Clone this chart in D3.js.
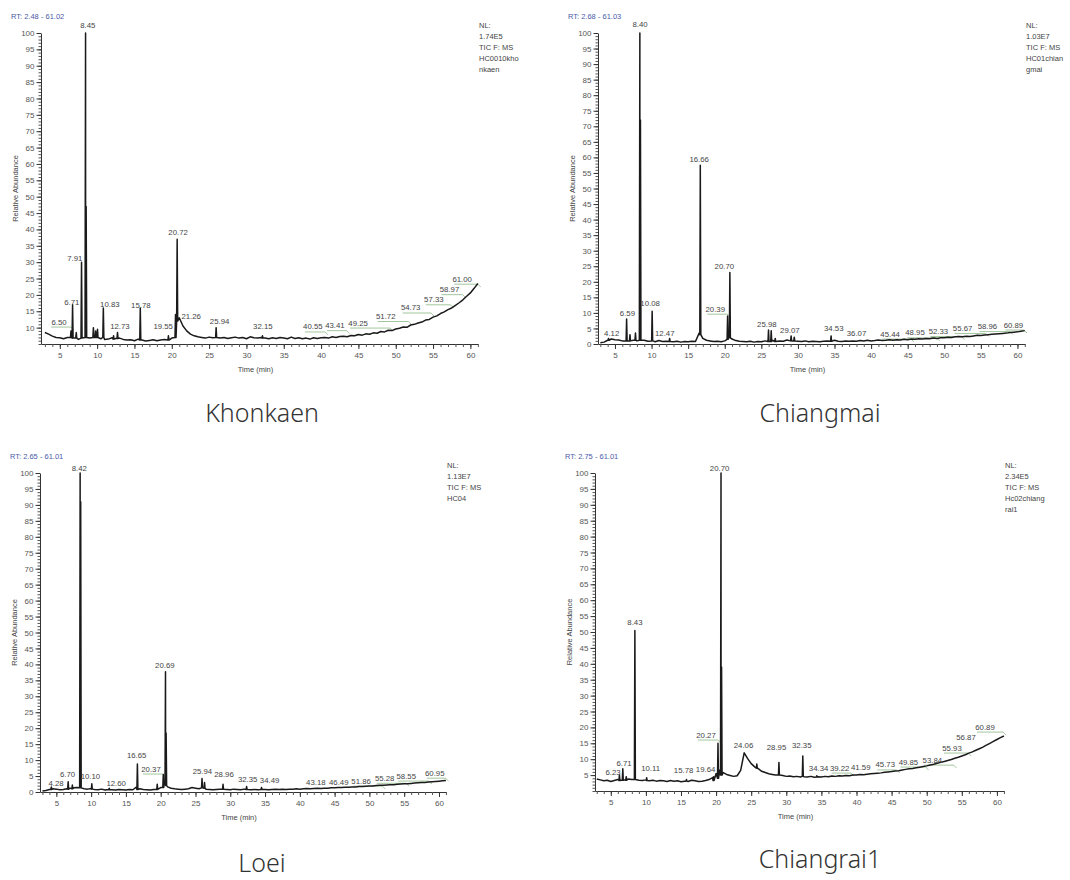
<!DOCTYPE html>
<html>
<head>
<meta charset="utf-8">
<script src="https://cdn.jsdelivr.net/npm/d3@7"></script>
<style>
  body { margin: 0; background: #fff; }
  svg text { font-family: "Liberation Sans", Arial, sans-serif; }
</style>
</head>
<body>
<svg id="chart" width="1070" height="880"></svg>
<script>
const baseTimes = d3.range(3, 61.001, 0.5);

// ---- Khonkaen ----
const khonkaenBase = [
  8.5, 8.0, 7.4, 7.0, 6.9, 6.6, 7.0, 6.5, 6.8, 6.4,
  6.6, 7.2, 6.8, 7.5, 8.0, 6.6, 6.4, 6.5, 6.9, 6.7,
  6.8, 6.4, 6.2, 6.3, 6.0, 6.5, 6.2, 5.9, 6.1, 6.3,
  6.0, 6.2, 6.4, 6.8, 6.8, 7.0, 13.0, 10.5, 9.0, 8.0,
  7.5, 7.2, 7.0, 6.8, 7.1, 6.9, 7.2, 6.8, 7.0, 6.7,
  6.9, 7.1, 6.8, 7.0, 6.6, 7.2, 6.9, 6.8, 7.0, 6.8,
  6.6, 6.9, 6.7, 7.0, 6.8, 6.6, 7.1, 6.7, 6.9, 6.6,
  6.8, 6.5, 6.9, 6.7, 6.9, 7.0, 6.8, 7.2, 7.0, 7.3,
  7.4, 7.2, 7.6, 7.5, 7.9, 7.7, 8.1, 8.0, 8.4, 8.3,
  8.8, 8.7, 9.2, 9.1, 9.6, 9.8, 10.2, 10.1, 10.8, 11.0,
  11.4, 11.7, 12.3, 12.5, 13.2, 13.6, 14.3, 14.8, 15.5, 16.0,
  16.8, 17.6, 18.5, 19.6, 20.6, 22.0, 23.5
];
// [retention time, apex, foot]
const khonkaenPeaks = [
  [6.50, 9, 7], [6.71, 17, 6.8], [7.2, 8.5, 6.8], [7.91, 30, 6.8],
  [8.45, 100, 7], [8.53, 47, 7], [9.5, 10, 7], [9.8, 9, 7], [10.05, 9.5, 7],
  [10.83, 16, 7], [12.2, 7.5, 6.5], [12.73, 8.5, 6.7], [15.78, 16, 6.2],
  [19.55, 7.5, 6.2], [20.5, 14, 7], [20.72, 37, 12], [25.94, 10, 7], [32.15, 7.5, 6.8]
];
// [label, label time, label height]
const khonkaenLabels = [
  ["6.50", 4.9, 11.7], ["6.71", 6.6, 17.6], ["7.91", 7.0, 31.2], ["8.45", 8.74, 102.4],
  ["10.83", 11.7, 17.0], ["12.73", 13.05, 10.2], ["15.78", 15.85, 16.9], ["19.55", 18.85, 10.2],
  ["20.72", 20.85, 39.1], ["21.26", 22.6, 13.4], ["25.94", 26.4, 11.9], ["32.15", 32.2, 10.4],
  ["40.55", 38.9, 10.2], ["43.41", 41.85, 10.6], ["49.25", 44.96, 11.4], ["51.72", 48.66, 13.4],
  ["54.73", 52.0, 16.0], ["57.33", 55.1, 18.5], ["58.97", 57.2, 21.6], ["61.00", 58.9, 24.8]
];
const khonkaenInfo = ["NL:", "1.74E5", "TIC F:  MS", "HC0010kho", "nkaen"];

// ---- Chiangmai ----
const chiangmaiBase = [
  0.4, 0.6, 1.2, 1.6, 1.4, 1.3, 1.0, 0.9, 0.8, 1.2,
  1.0, 1.8, 1.2, 0.9, 1.0, 0.7, 1.1, 0.8, 0.9, 1.0,
  0.7, 0.9, 0.6, 0.8, 0.7, 0.9, 0.8, 3.5, 1.8, 1.2,
  1.0, 0.8, 0.9, 0.7, 1.0, 2.5, 1.6, 1.1, 0.9, 0.8,
  0.7, 0.9, 0.6, 0.8, 0.7, 1.0, 0.9, 1.2, 0.8, 1.0,
  0.9, 1.3, 1.6, 1.1, 0.9, 0.8, 1.0, 0.7, 0.9, 0.8,
  0.7, 0.9, 1.0, 0.8, 1.2, 0.9, 0.8, 1.0, 0.9, 1.0,
  0.9, 1.1, 1.0, 1.2, 1.0, 1.1, 1.3, 1.1, 1.2, 1.4,
  1.2, 1.4, 1.3, 1.5, 1.4, 1.6, 1.5, 1.7, 1.6, 1.8,
  1.7, 1.9, 1.8, 2.0, 2.0, 2.2, 2.1, 2.3, 2.4, 2.3,
  2.5, 2.4, 2.6, 2.8, 2.7, 2.9, 3.0, 3.1, 3.2, 3.3,
  3.4, 3.5, 3.7, 3.8, 3.9, 4.1, 4.3
];
const chiangmaiPeaks = [
  [4.12, 1.8, 1.2], [6.59, 8, 1.0], [7.05, 3, 1.0], [7.8, 3.5, 1.2],
  [8.40, 100, 1.2], [8.48, 72, 1.2], [10.08, 10.5, 1.0], [12.47, 1.8, 0.8],
  [16.66, 57.5, 3], [20.39, 9, 1.5], [20.70, 23, 2.0], [25.98, 4.5, 0.8],
  [26.35, 4.3, 0.8], [26.9, 1.8, 0.8], [29.07, 2.6, 1.0], [29.5, 2.2, 1.0], [34.53, 2.6, 0.9]
];
const chiangmaiLabels = [
  ["4.12", 4.55, 3.4], ["6.59", 6.7, 9.9], ["8.40", 8.42, 102.6], ["10.08", 9.8, 13.1],
  ["12.47", 11.8, 3.4], ["16.66", 16.5, 59.4], ["20.39", 18.7, 11.2], ["20.70", 19.95, 24.9],
  ["25.98", 25.75, 6.4], ["29.07", 28.9, 4.5], ["34.53", 34.9, 5.0], ["36.07", 38.0, 3.4],
  ["45.44", 42.6, 3.2], ["48.95", 46.0, 3.6], ["52.33", 49.2, 4.0], ["55.67", 52.5, 5.0],
  ["58.96", 55.9, 5.6], ["60.89", 59.45, 6.1]
];
const chiangmaiInfo = ["NL:", "1.03E7", "TIC F:  MS", "HC01chian", "gmai"];

// ---- Loei ----
const loeiBase = [
  0.3, 0.5, 0.8, 1.0, 0.9, 0.7, 0.8, 1.0, 1.2, 1.3,
  1.4, 1.5, 1.0, 0.9, 1.1, 0.8, 0.7, 0.9, 0.6, 0.8,
  0.7, 0.6, 0.8, 0.7, 0.6, 0.8, 0.7, 1.5, 1.0, 0.8,
  0.7, 0.6, 0.8, 1.0, 1.4, 2.5, 1.6, 1.2, 1.0, 0.9,
  0.8, 0.9, 1.0, 1.4, 1.2, 1.0, 1.3, 0.9, 0.8, 0.7,
  0.8, 0.9, 1.1, 0.8, 0.7, 0.9, 0.8, 0.7, 0.9, 0.8,
  0.7, 0.8, 0.7, 0.9, 0.8, 0.7, 0.8, 0.9, 0.8, 0.9,
  0.8, 0.9, 0.9, 1.0, 0.9, 1.0, 1.1, 1.0, 1.1, 1.2,
  1.1, 1.2, 1.2, 1.3, 1.3, 1.4, 1.4, 1.5, 1.5, 1.6,
  1.6, 1.7, 1.7, 1.8, 1.9, 1.9, 2.0, 2.1, 2.1, 2.2,
  2.3, 2.3, 2.4, 2.5, 2.6, 2.6, 2.7, 2.8, 2.9, 3.0,
  3.0, 3.1, 3.2, 3.3, 3.4, 3.5, 3.6
];
const loeiPeaks = [
  [4.28, 1.6, 0.8], [6.70, 3.2, 0.9], [7.3, 2.2, 1.0], [8.42, 100, 1.3], [8.5, 91, 1.3],
  [10.10, 2.6, 0.9], [12.60, 1.2, 0.7], [16.65, 8.8, 0.8], [19.5, 2.4, 0.8], [20.37, 5.5, 1.4],
  [20.69, 37.7, 2.5], [20.78, 18.5, 2.0], [25.94, 4.2, 1.3], [26.3, 3.0, 1.2],
  [28.96, 2.4, 0.9], [32.35, 1.7, 0.8], [34.49, 1.4, 0.8]
];
const loeiLabels = [
  ["4.28", 4.96, 2.7], ["6.70", 6.6, 5.6], ["8.42", 8.3, 101.5], ["10.10", 9.9, 4.8],
  ["12.60", 13.6, 2.7], ["16.65", 16.55, 11.4], ["20.37", 18.6, 7.2], ["20.69", 20.6, 39.6],
  ["25.94", 26.0, 6.4], ["28.96", 29.1, 5.5], ["32.35", 32.5, 4.0], ["34.49", 35.65, 3.5],
  ["43.18", 42.3, 2.9], ["46.49", 45.6, 2.9], ["51.86", 48.8, 3.4], ["55.28", 52.2, 4.3],
  ["58.55", 55.3, 5.0], ["60.95", 59.4, 5.9]
];
const loeiInfo = ["NL:", "1.13E7", "TIC F:  MS", "HC04"];

// ---- Chiangrai1 ----
const chiangraiBase = [
  3.8, 3.5, 3.2, 3.4, 3.0, 3.3, 3.6, 3.4, 3.5, 3.8,
  3.6, 3.9, 3.4, 3.3, 3.5, 3.2, 3.4, 3.1, 3.3, 3.2,
  3.0, 3.3, 3.1, 3.2, 2.9, 3.1, 3.0, 3.4, 3.2, 3.0,
  3.1, 3.3, 3.6, 4.2, 5.5, 6.5, 5.8, 5.2, 4.9, 4.6,
  4.8, 6.5, 12.0, 10.2, 8.6, 7.6, 7.0, 6.2, 5.8, 5.4,
  5.2, 5.0, 4.8, 4.9, 4.6, 4.7, 4.5, 4.6, 4.4, 4.5,
  4.4, 4.6, 4.3, 4.5, 4.4, 4.6, 4.5, 4.7, 4.6, 4.8,
  4.7, 4.9, 4.8, 5.0, 5.0, 5.2, 5.1, 5.3, 5.4, 5.5,
  5.6, 5.7, 5.9, 6.0, 6.1, 6.3, 6.4, 6.6, 6.8, 7.0,
  7.1, 7.3, 7.5, 7.7, 7.9, 8.2, 8.4, 8.7, 9.0, 9.3,
  9.6, 9.9, 10.3, 10.6, 11.0, 11.4, 11.9, 12.3, 12.8, 13.3,
  13.8, 14.4, 15.0, 15.6, 16.2, 16.8, 17.3
];
const chiangraiPeaks = [
  [6.23, 5, 3.3], [6.71, 7, 3.4], [7.2, 4.5, 3.4], [8.43, 50.5, 3.6], [10.11, 4.2, 3.3],
  [15.78, 3.6, 3.1], [19.64, 4.5, 3.3], [20.27, 15, 4], [20.70, 100, 5], [20.78, 39, 5],
  [25.8, 8.5, 7.2], [28.95, 9, 5.0], [32.35, 11, 4.6], [34.34, 4.8, 4.4]
];
const chiangraiLabels = [
  ["6.23", 5.31, 5.7], ["6.71", 6.88, 8.8], ["8.43", 8.44, 52.9], ["10.11", 10.67, 7.2],
  ["15.78", 15.37, 6.6], ["19.64", 18.5, 6.9], ["20.27", 18.56, 17.6], ["20.70", 20.5, 101.5],
  ["24.06", 23.9, 14.4], ["28.95", 28.6, 13.8], ["32.35", 32.2, 14.4], ["34.34", 34.6, 7.2],
  ["39.22", 37.6, 7.2], ["41.59", 40.6, 7.5], ["45.73", 44.1, 8.2], ["49.85", 47.4, 9.1],
  ["53.84", 50.8, 9.7], ["55.93", 53.6, 13.5], ["56.87", 55.6, 16.7], ["60.89", 58.3, 20.1]
];
const chiangraiInfo = ["NL:", "2.34E5", "TIC F:  MS", "Hc02chiang", "rai1"];

const panels = [
  { name: "Khonkaen", rt: "RT: 2.48 - 61.02", tDomain: [2.48, 61.02], yDomain: [5, 100], yFirst: 10,
    base: khonkaenBase, peaks: khonkaenPeaks, labels: khonkaenLabels, info: khonkaenInfo,
    x0: 41, x1: 478, yTop: 33, yBot: 344, capX: 262, capY: 412 },
  { name: "Chiangmai", rt: "RT: 2.68 - 61.03", tDomain: [2.68, 61.03], yDomain: [0, 100], yFirst: 0,
    base: chiangmaiBase, peaks: chiangmaiPeaks, labels: chiangmaiLabels, info: chiangmaiInfo,
    x0: 598, x1: 1025, yTop: 33, yBot: 344, capX: 820, capY: 412 },
  { name: "Loei", rt: "RT: 2.65 - 61.01", tDomain: [2.65, 61.01], yDomain: [0, 100], yFirst: 0,
    base: loeiBase, peaks: loeiPeaks, labels: loeiLabels, info: loeiInfo,
    x0: 40, x1: 446, yTop: 473, yBot: 792, capX: 262, capY: 862 },
  { name: "Chiangrai1", rt: "RT: 2.75 - 61.01", tDomain: [2.75, 61.01], yDomain: [0, 100], yFirst: 5,
    base: chiangraiBase, peaks: chiangraiPeaks, labels: chiangraiLabels, info: chiangraiInfo,
    x0: 595, x1: 1004, yTop: 473, yBot: 791, capX: 820, capY: 858 }
];

const svg = d3.select("#chart");

panels.forEach(p => {
  const g = svg.append("g");
  const x = d3.scaleLinear().domain(p.tDomain).range([p.x0, p.x1]);
  const y = d3.scaleLinear().domain(p.yDomain).range([p.yBot, p.yTop]);

  // trace = baseline samples + narrow peaks
  const pts = baseTimes
    .map((t, i) => [t, p.base[i]])
    .filter(([t]) => !p.peaks.some(pk => Math.abs(pk[0] - t) < 0.09));
  p.peaks.forEach(([t, apex, foot]) => pts.push([t - 0.07, foot], [t, apex], [t + 0.07, foot]));
  pts.sort((a, b) => a[0] - b[0]);

  // x axis, major + minor ticks
  g.append("g")
    .attr("transform", `translate(0,${p.yBot})`)
    .call(d3.axisBottom(x).tickValues(d3.range(3, 61.5, 1)).tickSize(3).tickSizeOuter(0).tickFormat(""))
    .call(a => a.select(".domain").attr("stroke", "#333"))
    .call(a => a.selectAll(".tick line").attr("stroke", "#555"));
  g.append("g")
    .attr("transform", `translate(0,${p.yBot})`)
    .call(d3.axisBottom(x).tickValues(d3.range(5, 61, 5)).tickSize(5).tickSizeOuter(0).tickPadding(3))
    .call(a => a.select(".domain").remove())
    .call(a => a.selectAll(".tick line").attr("stroke", "#333"))
    .call(a => a.selectAll("text").attr("fill", "#555").style("font-size", "8px"));

  // y axis, major + minor ticks
  g.append("g")
    .attr("transform", `translate(${p.x0},0)`)
    .call(d3.axisLeft(y).tickValues(d3.range(p.yDomain[0], 100.5, 1)).tickSize(2.5).tickSizeOuter(0).tickFormat(""))
    .call(a => a.select(".domain").attr("stroke", "#333"))
    .call(a => a.selectAll(".tick line").attr("stroke", "#555"));
  g.append("g")
    .attr("transform", `translate(${p.x0},0)`)
    .call(d3.axisLeft(y).tickValues(d3.range(p.yFirst, 100.5, 5)).tickSize(4.5).tickSizeOuter(0).tickPadding(2))
    .call(a => a.select(".domain").remove())
    .call(a => a.selectAll(".tick line").attr("stroke", "#333"))
    .call(a => a.selectAll("text").attr("fill", "#555").style("font-size", "8px"));

  // leader lines under displaced labels
  p.labels.forEach(([txt, lt, lv]) => {
    const rx = x(parseFloat(txt)), lx = x(lt);
    if (rx - lx > 10) {
      g.append("path")
        .attr("d", `M${lx - 8},${y(lv) + 5}L${rx},${y(lv) + 5}L${rx + 3},${y(lv) + 8}`)
        .attr("fill", "none")
        .attr("stroke", "#8ab884")
        .attr("stroke-width", 0.8);
    }
  });

  // chromatogram trace
  g.append("path")
    .datum(pts)
    .attr("d", d3.line().x(d => x(d[0])).y(d => y(d[1])))
    .attr("fill", "none")
    .attr("stroke", "#1a1a1a")
    .attr("stroke-width", 1.5)
    .attr("stroke-linejoin", "round");

  // peak labels
  g.selectAll(".plabel")
    .data(p.labels)
    .enter()
    .append("text")
    .attr("class", "plabel")
    .attr("x", d => x(d[1]))
    .attr("y", d => y(d[2]))
    .attr("text-anchor", "middle")
    .attr("dominant-baseline", "central")
    .attr("fill", "#444")
    .style("font-size", "7.8px")
    .text(d => d[0]);

  // RT range, axis titles, instrument note
  g.append("text")
    .attr("x", p.x0 - 30)
    .attr("y", p.yTop - 17)
    .attr("dominant-baseline", "central")
    .attr("fill", "#4a5aa8")
    .style("font-size", "7.5px")
    .text(p.rt);
  g.append("text")
    .attr("transform", `translate(${p.x0 - 26},${(p.yTop + p.yBot) / 2}) rotate(-90)`)
    .attr("text-anchor", "middle")
    .attr("dominant-baseline", "central")
    .attr("fill", "#444")
    .style("font-size", "7.5px")
    .text("Relative Abundance");
  g.append("text")
    .attr("x", (p.x0 + p.x1) / 2 - 4)
    .attr("y", p.yBot + 25)
    .attr("text-anchor", "middle")
    .attr("dominant-baseline", "central")
    .attr("fill", "#444")
    .style("font-size", "7.5px")
    .text("Time (min)");
  g.selectAll(".info")
    .data(p.info)
    .enter()
    .append("text")
    .attr("class", "info")
    .attr("x", p.x1 + 1)
    .attr("y", (d, i) => p.yTop - 8 + i * 11)
    .attr("dominant-baseline", "central")
    .attr("fill", "#444")
    .style("font-size", "7.5px")
    .text(d => d);

  // sample caption
  svg.append("text")
    .attr("x", p.capX)
    .attr("y", p.capY)
    .attr("text-anchor", "middle")
    .attr("dominant-baseline", "central")
    .attr("fill", "#333")
    .style("font-family", "'Noto Sans', 'Open Sans', sans-serif")
    .style("font-weight", 300)
    .style("font-size", "25px")
    .text(p.name);
});
</script>
</body>
</html>
